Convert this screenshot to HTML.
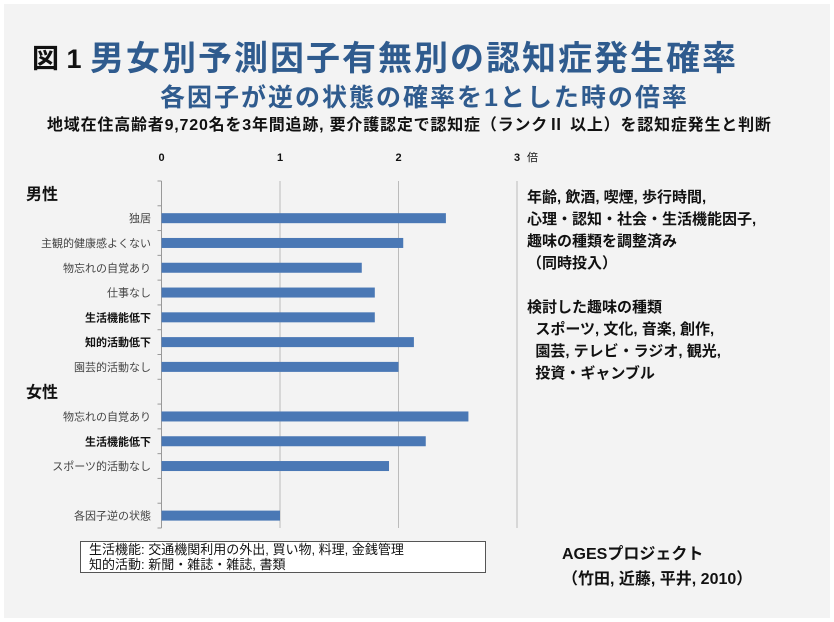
<!DOCTYPE html>
<html><head><meta charset="utf-8">
<style>
body{margin:0;width:834px;height:622px;background:#fff;overflow:hidden;font-family:"Liberation Sans","Noto Sans CJK JP",sans-serif;}
#panel{position:absolute;left:4px;top:4px;width:826px;height:614px;background:#f3f3f3;}
.t{position:absolute;white-space:nowrap;}
</style></head><body>
<div id="panel"></div>
<div class="t" style="left:32px;top:37px;font-size:27px;font-weight:bold;color:#111;">図 1</div>
<div class="t" style="left:90px;top:31px;font-size:34px;font-weight:bold;color:#2f5b8e;letter-spacing:2px;">男女別予測因子有無別の認知症発生確率</div>
<div class="t" style="left:160px;top:78px;font-size:25px;font-weight:bold;color:#2f5b8e;letter-spacing:2px;">各因子が逆の状態の確率を1とした時の倍率</div>
<div class="t" style="left:47px;top:111px;font-size:16px;font-weight:bold;color:#111;letter-spacing:0.8px;">地域在住高齢者9,720名を3年間追跡, 要介護認定で認知症（ランクⅡ 以上）を認知症発生と判断</div>
<svg id="chart" width="834" height="622" style="position:absolute;left:0;top:0;font-family:'Liberation Sans','Noto Sans CJK JP',sans-serif;"></svg>
<div class="t" style="left:527px;top:187px;font-size:15px;font-weight:bold;color:#111;line-height:22px;">年齢, 飲酒, 喫煙, 歩行時間,<br>心理・認知・社会・生活機能因子,<br>趣味の種類を調整済み<br>（同時投入）</div>
<div class="t" style="left:527px;top:297px;font-size:15px;font-weight:bold;color:#111;line-height:22px;">検討した趣味の種類<br>&nbsp;&nbsp;スポーツ, 文化, 音楽, 創作,<br>&nbsp;&nbsp;園芸, テレビ・ラジオ, 観光,<br>&nbsp;&nbsp;投資・ギャンブル</div>
<div class="t" style="left:80px;top:541px;width:406px;height:32px;border:1px solid #555;background:#fff;font-size:13px;line-height:15px;color:#111;padding:0 0 0 8px;box-sizing:border-box;">生活機能: 交通機関利用の外出, 買い物, 料理, 金銭管理<br>知的活動: 新聞・雑誌・雑誌, 書類</div>
<div class="t" style="left:562px;top:542px;font-size:16px;font-weight:bold;color:#111;line-height:25px;">AGESプロジェクト<br>（竹田, 近藤, 平井, 2010）</div>
<script>
const categories=["","独居","主観的健康感よくない","物忘れの自覚あり","仕事なし","生活機能低下","知的活動低下","園芸的活動なし","","物忘れの自覚あり","生活機能低下","スポーツ的活動なし","","各因子逆の状態"];
const values=[null,2.40,2.04,1.69,1.80,1.80,2.13,2.00,null,2.59,2.23,1.92,null,1.00];
const boldCats=[5,6,10];
const ticks=[0,1,2,3];
(function(){
const svg=document.getElementById('chart');
const NS='http://www.w3.org/2000/svg';
const x0=161.5,x1=517,plotTop=181,plotBottom=528,xmax=3;
const xs=v=>x0+(x1-x0)*v/xmax;
const slot=(plotBottom-plotTop)/categories.length;
const yc=i=>plotTop+slot*(i+0.5);
function mk(t,a){const e=document.createElementNS(NS,t);for(const k in a)e.setAttribute(k,a[k]);svg.appendChild(e);return e;}
ticks.forEach(t=>{
  if(t>0){const g=mk('line',{x1:xs(t),x2:xs(t),y1:plotTop,y2:plotBottom,stroke:'#bbb','stroke-width':1});
  
  }
  const l=mk('text',{x:xs(t),y:161,'text-anchor':'middle','font-size':11,'font-weight':'bold',fill:'#111'});
  l.textContent=t;
  
  
});
const u=mk('text',{x:xs(3)+10,y:161,'font-size':11,fill:'#111'});u.textContent='倍';


const ax=mk('line',{x1:x0,x2:x0,y1:plotTop,y2:plotBottom,stroke:'#999','stroke-width':1});


for(let i=0;i<=categories.length;i++){const tk=mk('line',{x1:x0-4,x2:x0,y1:plotTop+slot*i,y2:plotTop+slot*i,stroke:'#999'});

}
categories.forEach((c,i)=>{
  if(values[i]==null)return;
  const r=mk('rect',{x:x0,y:yc(i)-5,width:xs(values[i])-x0,height:10,fill:'#4a78b5'});
  
  
  const b=boldCats.includes(i);
  const l=mk('text',{x:151,y:yc(i)+4,'text-anchor':'end','font-size':11,fill:b?'#111':'#444','font-weight':b?'bold':'normal'});
  l.textContent=c;
  
  
});
[["男性",0],["女性",8]].forEach(([g,i])=>{
  const t=mk('text',{x:26,y:yc(i)+6,'font-size':16,'font-weight':'bold',fill:'#111'});
  t.textContent=g;
  
  
});
})();
</script>
</body></html>
